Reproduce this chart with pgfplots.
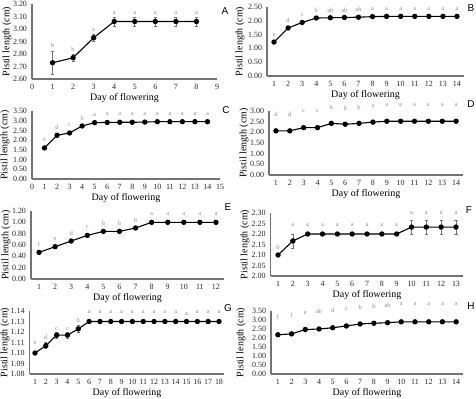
\documentclass[border=0pt]{standalone}
\usepackage{fontspec}
\setmainfont{Liberation Serif}
\newfontfamily\panelfont{Liberation Sans}
\usepackage{pgfplots}
\usepackage{pgfplotstable}
\pgfplotsset{compat=1.18}
\definecolor{lettergray}{HTML}{8C8C8C}
\pgfplotsset{
  panel/.style={
    scale only axis,
    axis x line*=bottom, axis y line*=left,
    axis line style={-, draw=black!55, line width=1.3bp},
    major tick length=0pt,
    clip=false,
    /pgf/number format/assume math mode=true,
    tick label style={font=\fontsize{8}{9}\selectfont, text=black!85},
    yticklabel style={/pgf/number format/fixed, /pgf/number format/fixed zerofill, /pgf/number format/precision=2, anchor=east, xshift=-1.5bp},
    xticklabel style={anchor=center, yshift=-7.5bp},
    xlabel={Day of flowering}, ylabel={Pistil length (cm)},
    label style={font=\fontsize{8.5}{10}\selectfont},
    every axis x label/.style={at={(axis description cs:0.5,0)}, anchor=center, yshift=-19.5bp},
    every axis y label/.style={rotate=90, anchor=center},
  },
  dline/.style={black, line width=1.1bp, mark=*, mark size=2.1bp, mark options={solid, fill=black}},
  letters/.style={draw=none, mark=none, nodes near coords, point meta=explicit symbolic,
     every node near coord/.append style={anchor=center, inner sep=0pt, font=\fontsize{6.5}{7}\selectfont, text=lettergray}},
  ebars/.style={error bars/.cd, y dir=both, y explicit, error bar style={black!55, line width=0.7bp}, error mark options={rotate=90, mark size=1.6bp, black!55, line width=0.7bp}},
}
\begin{document}
\begin{tikzpicture}[x=1bp,y=1bp]
\useasboundingbox (0,0) rectangle (476,398);
% ---------------- A
\begin{axis}[panel, at={(32bp,319bp)}, anchor=south west, width=185bp, height=75bp,
  xmin=0, xmax=9, xtick={0,1,...,9}, ymin=2.6, ymax=3.2, ytick={2.6,2.7,2.8,2.9,3.0,3.1,3.2},
  ylabel style={at={(axis description cs:-0.135,0.5)}}]
\addplot[dline, ebars] table[x=x, y=y, y error=e] {
x y e
1 2.73 0.09
2 2.77 0.03
3 2.93 0.03
4 3.06 0.035
5 3.06 0.035
6 3.06 0.035
7 3.06 0.035
8 3.06 0.035
};
\addplot[letters] table[meta=l] {
x y l
1 2.867 b
2 2.841 b
3 2.99 a
4 3.131 a
5 3.131 a
6 3.131 a
7 3.131 a
8 3.131 a
};
\end{axis}
% ---------------- B
\begin{axis}[panel, at={(267bp,322bp)}, anchor=south west, width=197bp, height=69bp,
  xmin=0.5, xmax=14.5, xtick={1,...,14}, ymin=0, ymax=2.5, ytick={0,0.5,1,1.5,2,2.5},
  ylabel style={at={(axis description cs:-0.137,0.5)}}]
\addplot[dline] table {
x y
1 1.23
2 1.74
3 1.94
4 2.10
5 2.11
6 2.12
7 2.13
8 2.15
9 2.16
10 2.16
11 2.16
12 2.16
13 2.16
14 2.16
};
\addplot[letters] table[meta=l] {
x y l
1 1.50 e
2 2.01 d
3 2.21 c
4 2.37 b
5 2.38 ab
6 2.39 ab
7 2.40 ab
8 2.42 a
9 2.43 a
10 2.43 a
11 2.43 a
12 2.43 a
13 2.43 a
14 2.43 a
};
\end{axis}
% ---------------- C
\begin{axis}[panel, at={(32bp,219bp)}, anchor=south west, width=188bp, height=68bp,
  xmin=0, xmax=15, xtick={0,1,...,15}, ymin=0, ymax=3.5, ytick={0,0.5,1,1.5,2,2.5,3,3.5},
  ylabel style={at={(axis description cs:-0.144,0.5)}}]
\addplot[dline] table {
x y
1 1.60
2 2.25
3 2.37
4 2.73
5 2.90
6 2.91
7 2.92
8 2.92
9 2.93
10 2.95
11 2.95
12 2.95
13 2.95
14 2.95
};
\addplot[letters] table[meta=l] {
x y l
1 2.01 e
2 2.66 d
3 2.78 c
4 3.14 b
5 3.31 a
6 3.32 a
7 3.33 a
8 3.33 a
9 3.34 a
10 3.36 a
11 3.36 a
12 3.36 a
13 3.36 a
14 3.36 a
};
\end{axis}
% ---------------- D
\begin{axis}[panel, at={(269bp,223bp)}, anchor=south west, width=194bp, height=64bp,
  xmin=0.5, xmax=14.5, xtick={1,...,14}, ymin=0, ymax=3, ytick={0,0.5,1,1.5,2,2.5,3},
  ylabel style={at={(axis description cs:-0.129,0.5)}}]
\addplot[dline] table {
x y
1 2.07
2 2.07
3 2.22
4 2.22
5 2.42
6 2.38
7 2.42
8 2.48
9 2.52
10 2.52
11 2.52
12 2.52
13 2.52
14 2.52
};
\addplot[letters] table[meta=l] {
x y l
1 2.84 d
2 2.84 d
3 2.99 c
4 2.99 c
5 3.19 b
6 3.15 b
7 3.19 b
8 3.25 a
9 3.29 a
10 3.29 a
11 3.29 a
12 3.29 a
13 3.29 a
14 3.29 a
};
\end{axis}
% ---------------- E
\begin{axis}[panel, at={(31bp,119bp)}, anchor=south west, width=193bp, height=68bp,
  xmin=0.5, xmax=12.5, xtick={1,...,12}, ymin=0, ymax=1.2, ytick={0,0.2,0.4,0.6,0.8,1.0,1.2},
  ylabel style={at={(axis description cs:-0.13,0.5)}}]
\addplot[dline] table {
x y
1 0.47
2 0.57
3 0.67
4 0.77
5 0.84
6 0.84
7 0.90
8 1.00
9 1.00
10 1.00
11 1.00
12 1.00
};
\addplot[letters] table[meta=l] {
x y l
1 0.61 f
2 0.71 e
3 0.81 d
4 0.91 c
5 0.98 b
6 0.98 b
7 1.04 b
8 1.14 a
9 1.14 a
10 1.14 a
11 1.14 a
12 1.14 a
};
\end{axis}
% ---------------- F
\begin{axis}[panel, at={(270.6bp,122bp)}, anchor=south west, width=192.8bp, height=63bp,
  xmin=0.5, xmax=13.5, xtick={1,...,13}, ymin=2.0, ymax=2.3, ytick={2.00,2.05,2.10,2.15,2.20,2.25,2.30},
  ylabel style={at={(axis description cs:-0.133,0.5)}}]
\addplot[dline, ebars] table[x=x, y=y, y error=e] {
x y e
1 2.100 0
2 2.167 0.033
3 2.200 0
4 2.200 0
5 2.200 0
6 2.200 0
7 2.200 0
8 2.200 0
9 2.200 0
10 2.233 0.033
11 2.233 0.033
12 2.233 0.033
13 2.233 0.033
};
\addplot[letters] table[meta=l] {
x y l
1 2.135 b
2 2.243 a
3 2.243 a
4 2.243 a
5 2.243 a
6 2.243 a
7 2.243 a
8 2.243 a
9 2.243 a
10 2.30 a
11 2.30 a
12 2.30 a
13 2.30 a
};
\end{axis}
% ---------------- G
\begin{axis}[panel, at={(29.6bp,24bp)}, anchor=south west, width=194.8bp, height=63bp,
  xmin=0.5, xmax=18.5, xtick={1,...,18}, ymin=1.08, ymax=1.14, ytick={1.08,1.09,1.10,1.11,1.12,1.13,1.14},
  ylabel style={at={(axis description cs:-0.126,0.5)}}]
\addplot[dline, ebars] table[x=x, y=y, y error=e] {
x y e
1 1.100 0
2 1.107 0.003
3 1.117 0.003
4 1.117 0.003
5 1.123 0.003
6 1.130 0
7 1.130 0
8 1.130 0
9 1.130 0
10 1.130 0
11 1.130 0
12 1.130 0
13 1.130 0
14 1.130 0
15 1.130 0
16 1.130 0
17 1.130 0
18 1.130 0
};
\addplot[letters] table[meta=l] {
x y l
1 1.1098 e
2 1.1150 d
3 1.1231 c
4 1.1231 c
5 1.1314 b
6 1.1388 a
7 1.1388 a
8 1.1388 a
9 1.1388 a
10 1.1388 a
11 1.1388 a
12 1.1388 a
13 1.1388 a
14 1.1388 a
15 1.1370 a
16 1.1388 a
17 1.1388 a
18 1.1388 a
};
\end{axis}
% ---------------- H
\begin{axis}[panel, at={(271bp,24bp)}, anchor=south west, width=192bp, height=63bp,
  xmin=0.5, xmax=14.5, xtick={1,...,14}, ymin=0, ymax=3.5, ytick={0,0.5,1,1.5,2,2.5,3,3.5},
  ylabel style={at={(axis description cs:-0.156,0.5)}}]
\addplot[dline] table {
x y
1 2.18
2 2.23
3 2.47
4 2.50
5 2.57
6 2.67
7 2.78
8 2.82
9 2.85
10 2.90
11 2.90
12 2.90
13 2.90
14 2.90
};
\addplot[letters] table[meta=l] {
x y l
1 3.13 f
2 3.28 f
3 3.37 e
4 3.46 de
5 3.52 d
6 3.61 c
7 3.71 b
8 3.74 b
9 3.82 ab
10 3.87 a
11 3.87 a
12 3.87 a
13 3.87 a
14 3.87 a
};
\end{axis}
% panel letters
\begin{scope}[every node/.style={font=\panelfont\fontsize{10}{12}\selectfont}]
\node at (225,387) {A};
\node at (471,390) {B};
\node at (226,288) {C};
\node at (471,294) {D};
\node at (228,191) {E};
\node at (469,188) {F};
\node at (228,90) {G};
\node at (471,92) {H};
\end{scope}
\end{tikzpicture}
\end{document}
